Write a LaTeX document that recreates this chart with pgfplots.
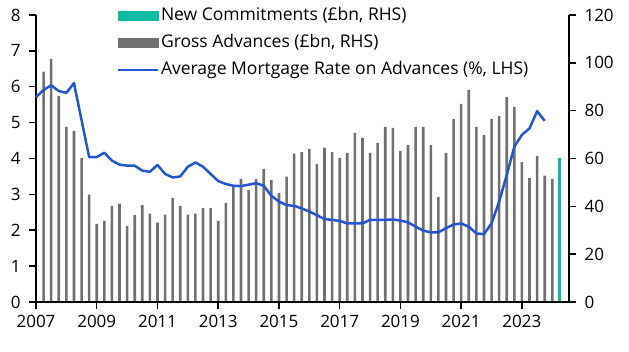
\documentclass[border=0pt]{standalone}
\usepackage{fontspec}
\setmainfont{Open Sans}
\usepackage{pgfplots}
\pgfplotsset{compat=1.18}
\definecolor{commit}{RGB}{16,185,164}
\definecolor{barg}{RGB}{112,112,112}
\definecolor{lineb}{RGB}{36,86,210}
\pgfplotsset{common/.style={
  width=533pt, height=287pt, scale only axis,
  xmin=2007, xmax=2024.55,
  axis line style={line width=1.8pt, black},
  tick style={line width=1.5pt, black},
  major tick length=7pt,
  tick align=outside,
  ticklabel style={font=\fontsize{17}{20}\selectfont},
  /pgf/number format/assume math mode=true,
  /pgf/number format/1000 sep={},
  clip=false,
}}
\begin{document}
\begin{tikzpicture}
\begin{axis}[common,
  axis x line=none, axis y line*=right,
  ymin=0, ymax=120, ytick={0,20,...,120},
  yticklabel style={xshift=5pt},
]
\addplot[ybar, bar width=2.6pt, bar shift=0pt, fill=barg, draw=none] coordinates {
(2007.25,96.3) (2007.5,101.6) (2007.75,86.1) (2008.0,73.2) (2008.25,71.6) (2008.5,60.2) (2008.75,44.9)
(2009.0,32.7) (2009.25,33.9) (2009.5,40.2) (2009.75,41.1) (2010.0,31.8) (2010.25,36.3) (2010.5,40.5)
(2010.75,36.9) (2011.0,33.2) (2011.25,36.5) (2011.5,43.5) (2011.75,40.2) (2012.0,36.5) (2012.25,36.9)
(2012.5,39.3) (2012.75,39.3) (2013.0,33.9) (2013.25,41.4) (2013.5,48.5) (2013.75,51.5) (2014.0,46.8)
(2014.25,51.5) (2014.5,55.7) (2014.75,51.0) (2015.0,45.6) (2015.25,52.4) (2015.5,62.0) (2015.75,62.7)
(2016.0,63.9) (2016.25,57.8) (2016.5,64.5) (2016.75,62.7) (2017.0,60.3) (2017.25,62.3) (2017.5,70.7)
(2017.75,68.6) (2018.0,62.3) (2018.25,66.5) (2018.5,73.2) (2018.75,72.8) (2019.0,63.2) (2019.25,65.7)
(2019.5,73.2) (2019.75,73.2) (2020.0,65.7) (2020.25,44.0) (2020.5,62.3) (2020.75,76.5) (2021.0,82.8)
(2021.25,88.7) (2021.5,73.2) (2021.75,69.8) (2022.0,76.5) (2022.25,77.7) (2022.5,85.7) (2022.75,81.6)
(2023.0,58.5) (2023.25,51.9) (2023.5,61.1) (2023.75,52.8) (2024.0,51.5)
};
\addplot[ybar, bar width=2.8pt, bar shift=0pt, fill=commit, draw=none] coordinates {(2024.25,60)};
\end{axis}
\begin{axis}[common,
  axis x line*=bottom, axis y line*=left,
  ymin=0, ymax=8, ytick={0,1,...,8},
  xtick={2007,2009,...,2023},
  yticklabel style={xshift=-5pt},
  xticklabel style={yshift=-3pt},
  legend cell align=left,
  legend style={draw=none, fill=none, inner sep=0pt, outer sep=0pt,
    at={(0.152,1.031)}, anchor=north west,
    font=\fontsize{17.5}{20}\selectfont, row sep=7pt,
    nodes={inner sep=1.5pt, text height=13pt, text depth=4pt}},
]
\addlegendimage{legend image code/.code={\fill[commit] (0pt,-4.5pt) rectangle (40pt,4.5pt);}}
\addlegendentry{New Commitments (£bn, RHS)}
\addlegendimage{legend image code/.code={\fill[barg] (0pt,-4.5pt) rectangle (40pt,4.5pt);}}
\addlegendentry{Gross Advances (£bn, RHS)}
\addplot[color=lineb, line width=2.5pt, line join=round, mark=none,
  legend image code/.code={\draw[lineb, line width=2.5pt] (0pt,0pt) -- (40pt,0pt);}] coordinates {
(2007.0,5.71) (2007.25,5.91) (2007.5,6.04) (2007.75,5.88) (2008.0,5.83) (2008.25,6.10)
(2008.75,4.04) (2009.0,4.04) (2009.25,4.16) (2009.5,3.94) (2009.75,3.83) (2010.0,3.80)
(2010.25,3.80) (2010.5,3.66) (2010.75,3.63) (2011.0,3.82) (2011.25,3.57) (2011.5,3.47)
(2011.75,3.50) (2012.0,3.77) (2012.25,3.89) (2012.5,3.77) (2012.75,3.57) (2013.0,3.37)
(2013.25,3.29) (2013.5,3.24) (2013.75,3.23) (2014.0,3.27) (2014.25,3.31) (2014.5,3.24)
(2014.75,2.96) (2015.0,2.80) (2015.25,2.70) (2015.5,2.68) (2015.75,2.61) (2016.0,2.52)
(2016.25,2.42) (2016.5,2.31) (2016.75,2.29) (2017.0,2.26) (2017.25,2.19) (2017.5,2.19)
(2017.75,2.19) (2018.0,2.29) (2018.25,2.29) (2018.5,2.29) (2018.75,2.30) (2019.0,2.27)
(2019.25,2.22) (2019.5,2.10) (2019.75,1.99) (2020.0,1.94) (2020.25,1.94) (2020.5,2.06)
(2020.75,2.16) (2021.0,2.19) (2021.25,2.10) (2021.5,1.91) (2021.75,1.89) (2022.0,2.19)
(2022.25,2.80) (2022.5,3.54) (2022.75,4.33) (2023.0,4.66) (2023.25,4.84) (2023.5,5.32)
(2023.75,5.05)
};
\addlegendentry{Average Mortgage Rate on Advances (\%, LHS)}
\coordinate (o) at (rel axis cs:0,0);
\end{axis}
\pgfresetboundingbox
\path (o) ++(-36pt,-50pt) rectangle ++(629pt,352pt);
\end{tikzpicture}
\end{document}
